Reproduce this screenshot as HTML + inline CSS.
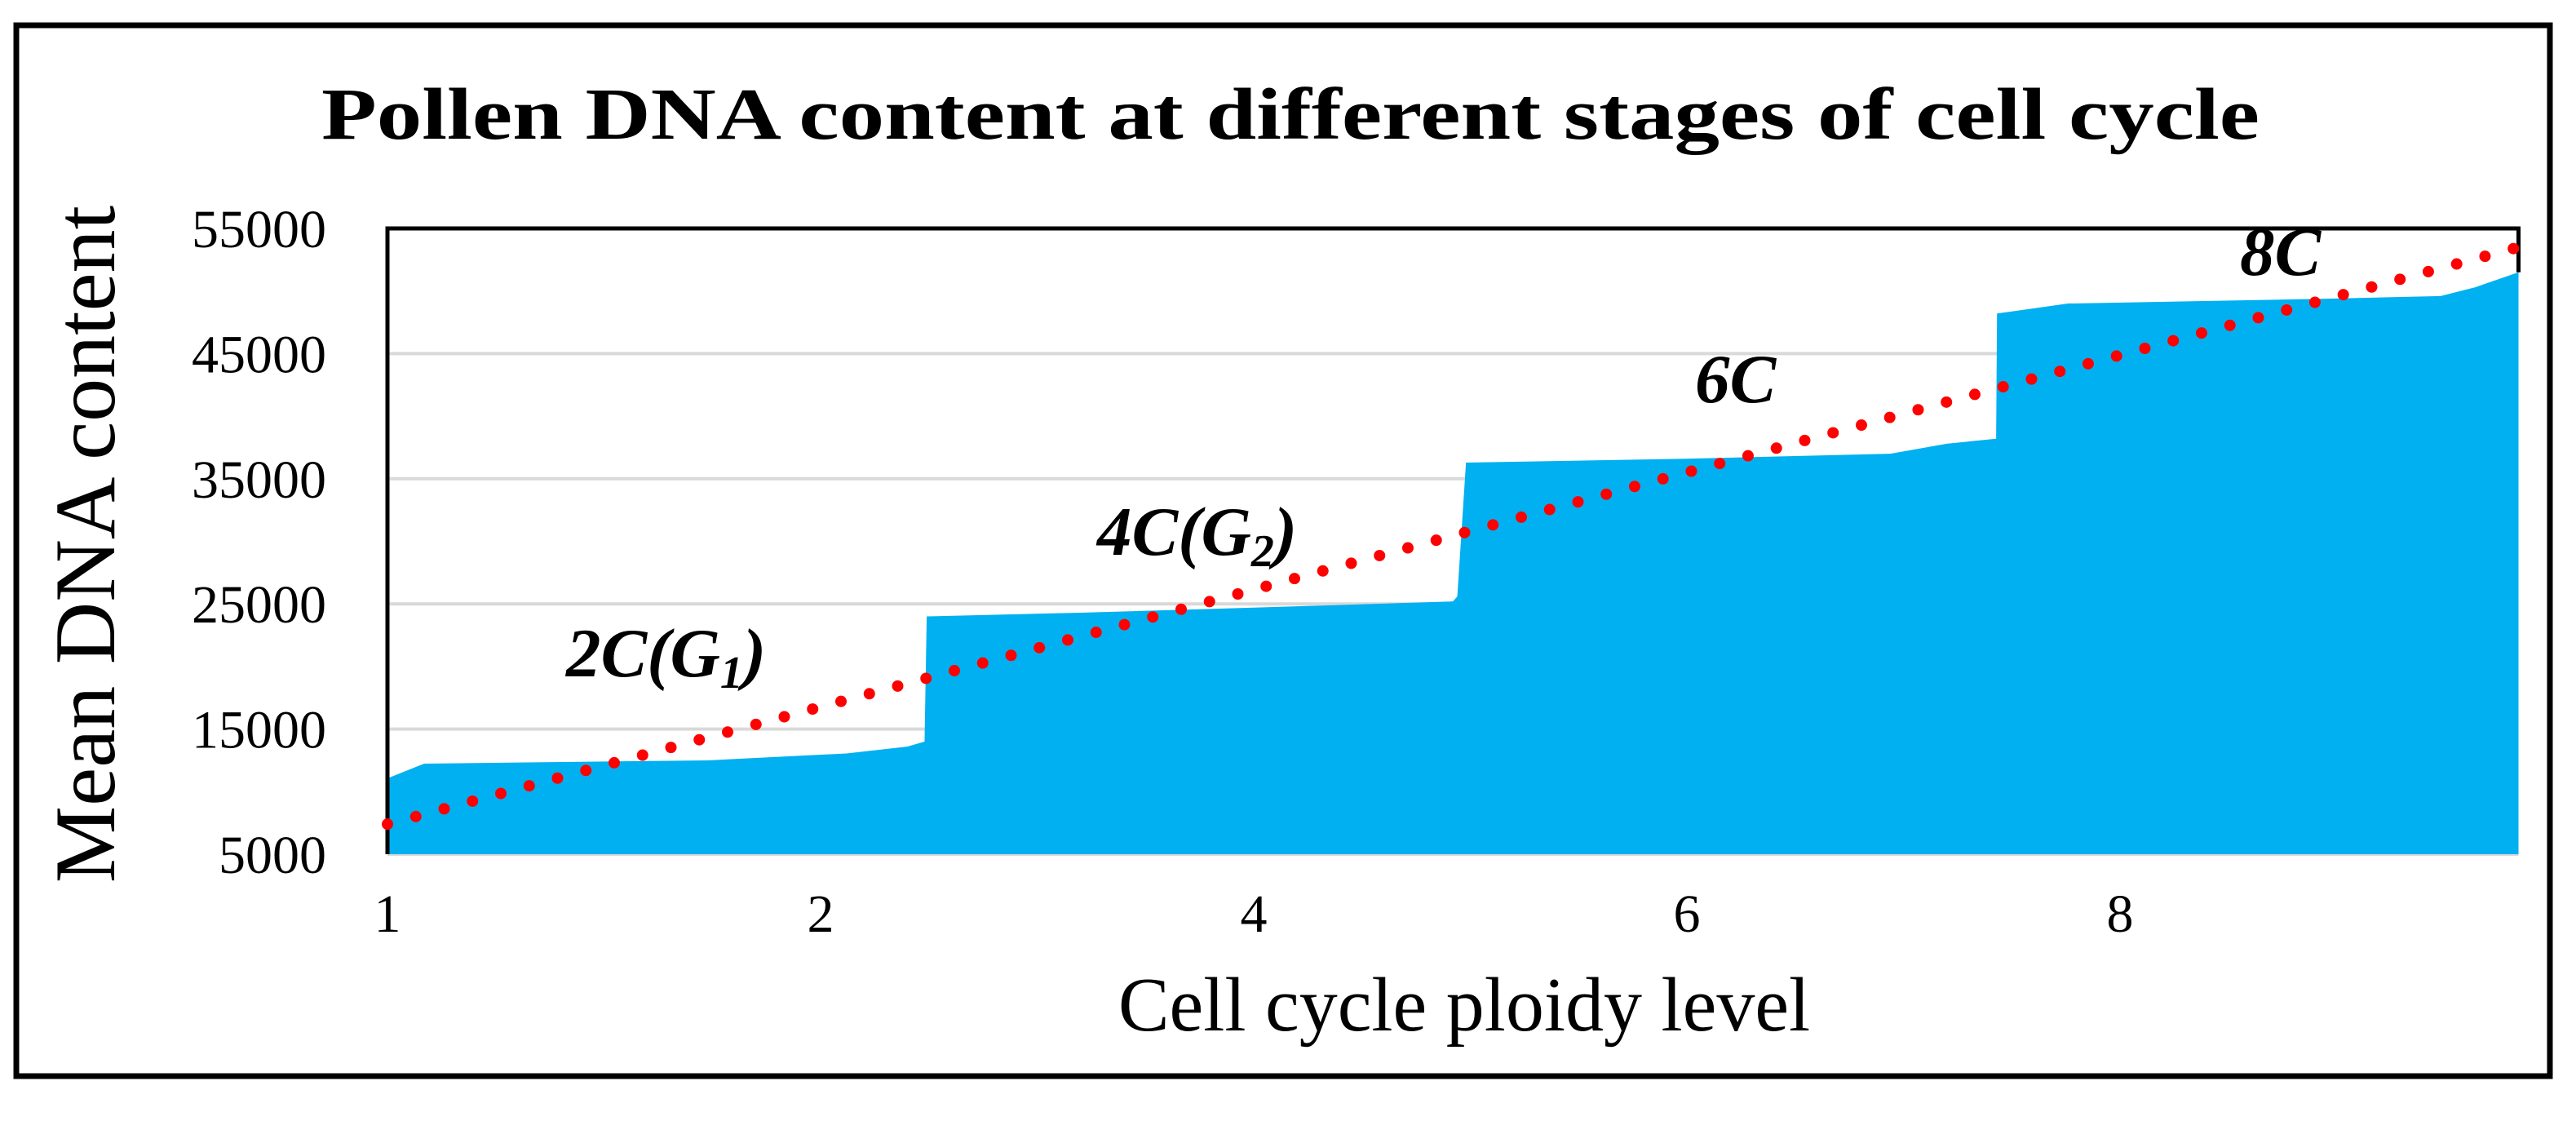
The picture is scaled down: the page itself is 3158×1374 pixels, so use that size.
<!DOCTYPE html>
<html><head><meta charset="utf-8"><style>
html,body{margin:0;padding:0;background:#fff;}
svg{display:block;}
text{font-family:"Liberation Serif",serif;}
</style></head><body>
<svg id="chart" width="3158" height="1374" viewBox="0 0 3158 1374" xmlns="http://www.w3.org/2000/svg">
<rect x="20" y="31" width="3106" height="1288" fill="#fff" stroke="#000" stroke-width="7"/>
<text x="1582" y="170" font-size="90" font-weight="bold" text-anchor="middle" textLength="2376" lengthAdjust="spacingAndGlyphs">Pollen DNA  content at different stages of cell cycle</text>
<g id="grid"></g>
<g id="area"></g>
<g id="frame"></g>
<g id="trend"></g>
<g id="yticks"></g>
<g id="xticks"></g>
<text transform="translate(140,667) rotate(-90)" font-size="106" text-anchor="middle">Mean DNA content</text>
<text x="1795" y="1263" font-size="94" text-anchor="middle">Cell cycle ploidy level</text>
<text x="694" y="829" font-size="85" font-weight="bold" font-style="italic">2C(G<tspan font-size="56" dy="14">1</tspan><tspan dy="-14">)</tspan></text>
<text x="1345" y="680" font-size="85" font-weight="bold" font-style="italic">4C(G<tspan font-size="56" dy="14">2</tspan><tspan dy="-14">)</tspan></text>
<text x="2078" y="493" font-size="85" font-weight="bold" font-style="italic">6C</text>
<text x="2746" y="337" font-size="85" font-weight="bold" font-style="italic">8C</text>
</svg>
<script>
const yTicks = [5000, 15000, 25000, 35000, 45000, 55000];
const xTickLabels = ["1", "2", "4", "6", "8"];
// area series: position along category axis (tick index units) and mean DNA content
const areaIdx = [0, 0.085, 0.74, 1.06, 1.2, 1.24, 1.245, 1.60, 2.0, 2.46, 2.47, 2.49, 3.0, 3.47, 3.6, 3.714, 3.716, 3.88, 4.5, 4.74, 4.82, 4.92];
const areaVals = [11060, 12240, 12500, 13050, 13600, 14000, 24000, 24300, 24700, 25200, 25600, 36290, 36600, 37000, 37800, 38200, 48200, 49000, 49400, 49600, 50300, 51500];
const trendIdx = [0, 4.92];
const trendVals = [7400, 53500];

const X0 = 475, XSTEP = 531, Y0 = 1047, YSTEP = 153.4;
const xs = i => X0 + i * XSTEP;
const ys = v => Y0 - (v - 5000) / 10000 * YSTEP;
const NS = "http://www.w3.org/2000/svg";
const XMAX = xs(4.92), YTOP = ys(55000);

const grid = document.getElementById('grid');
yTicks.forEach((t, k) => {
  if (t === 55000) return;
  const l = document.createElementNS(NS, 'line');
  
  
  l.setAttribute('x1', X0); l.setAttribute('x2', XMAX);
  l.setAttribute('y1', ys(t)); l.setAttribute('y2', ys(t));
  l.setAttribute('stroke', '#d9d9d9'); l.setAttribute('stroke-width', '4');
  grid.appendChild(l);
});

const area = document.getElementById('area');
let d = 'M' + xs(areaIdx[0]) + ',' + ys(5000);
areaIdx.forEach((i, k) => { d += ' L' + xs(i) + ',' + ys(areaVals[k]); });
d += ' L' + xs(areaIdx[areaIdx.length - 1]) + ',' + ys(5000) + ' Z';
const ap = document.createElementNS(NS, 'path');


ap.setAttribute('d', d); ap.setAttribute('fill', '#00b0f0');
area.appendChild(ap);

const frame = document.getElementById('frame');
const fp = document.createElementNS(NS, 'path');


fp.setAttribute('d', 'M' + X0 + ',' + Y0 + ' L' + X0 + ',' + YTOP + ' L' + XMAX + ',' + YTOP + ' L' + XMAX + ',' + ys(51500));
fp.setAttribute('fill', 'none'); fp.setAttribute('stroke', '#000'); fp.setAttribute('stroke-width', '5');
frame.appendChild(fp);

const trend = document.getElementById('trend');
const tl = document.createElementNS(NS, 'line');


tl.setAttribute('x1', xs(trendIdx[0])); tl.setAttribute('y1', ys(trendVals[0]));
tl.setAttribute('x2', xs(trendIdx[1])); tl.setAttribute('y2', ys(trendVals[1]));
tl.setAttribute('stroke', '#ff0000'); tl.setAttribute('stroke-width', '14');
tl.setAttribute('stroke-linecap', 'round'); tl.setAttribute('stroke-dasharray', '0 36');
trend.appendChild(tl);

const yt = document.getElementById('yticks');
yTicks.forEach(t => {
  const tx = document.createElementNS(NS, 'text');
  
  
  tx.setAttribute('x', 400); tx.setAttribute('y', ys(t) + 23);
  tx.setAttribute('font-size', '66'); tx.setAttribute('text-anchor', 'end');
  tx.textContent = t;
  yt.appendChild(tx);
});

const xt = document.getElementById('xticks');
xTickLabels.forEach((lab, k) => {
  const tx = document.createElementNS(NS, 'text');
  
  
  tx.setAttribute('x', xs(k)); tx.setAttribute('y', 1142);
  tx.setAttribute('font-size', '66'); tx.setAttribute('text-anchor', 'middle');
  tx.textContent = lab;
  xt.appendChild(tx);
});
</script>
</body></html>
